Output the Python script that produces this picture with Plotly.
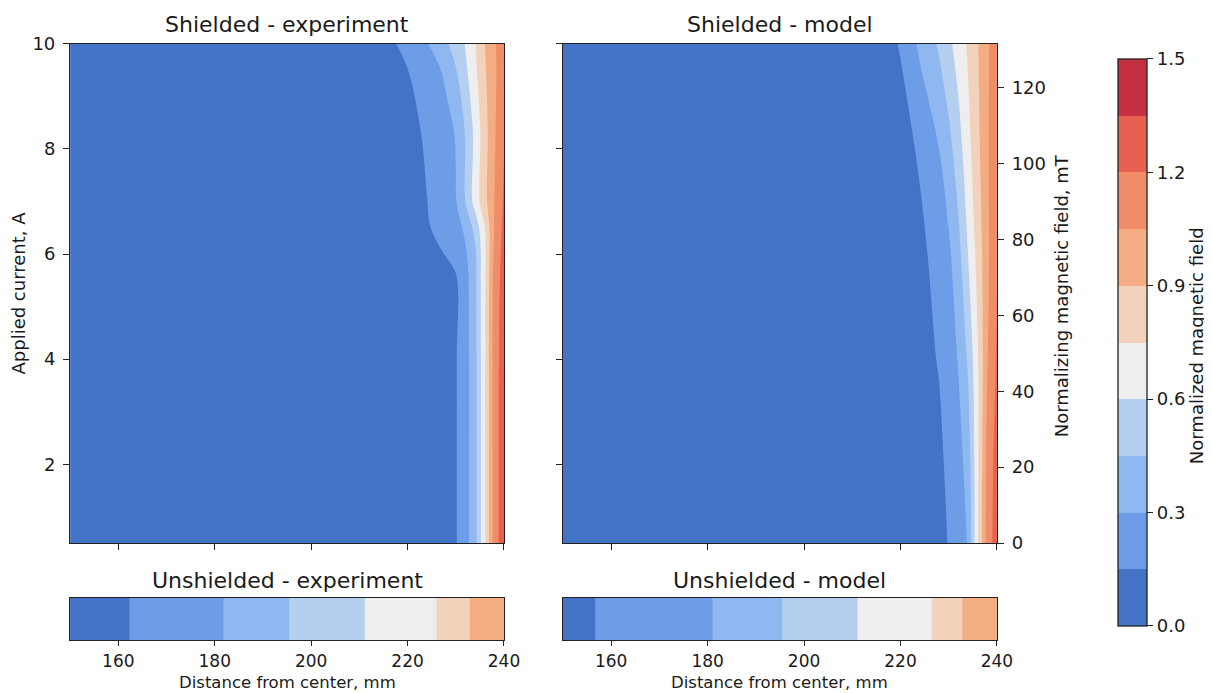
import plotly.graph_objects as go

# ---------------- data ----------------
distance_mm = [150, 190, 210, 216, 220, 224, 228, 230, 232, 234, 236, 238, 240]

current_exp_A = [0.5, 2, 4, 5.6, 6, 6.5, 7, 8.3, 9.5, 10]
field_shielded_exp = [
    [0.03, 0.05, 0.07, 0.08, 0.09, 0.10, 0.12, 0.14, 0.24, 0.40, 0.73, 1.12, 1.30],
    [0.03, 0.05, 0.07, 0.08, 0.09, 0.10, 0.12, 0.14, 0.24, 0.40, 0.73, 1.12, 1.30],
    [0.03, 0.05, 0.07, 0.08, 0.09, 0.10, 0.12, 0.14, 0.24, 0.40, 0.73, 1.12, 1.29],
    [0.03, 0.05, 0.07, 0.08, 0.09, 0.10, 0.12, 0.145, 0.25, 0.41, 0.73, 1.10, 1.27],
    [0.04, 0.06, 0.08, 0.09, 0.10, 0.11, 0.155, 0.20, 0.28, 0.42, 0.72, 1.08, 1.26],
    [0.04, 0.06, 0.08, 0.10, 0.12, 0.14, 0.19, 0.24, 0.33, 0.50, 0.74, 1.06, 1.24],
    [0.04, 0.06, 0.09, 0.11, 0.13, 0.148, 0.24, 0.29, 0.45, 0.66, 0.85, 1.05, 1.22],
    [0.05, 0.07, 0.10, 0.11, 0.12, 0.163, 0.25, 0.31, 0.46, 0.64, 0.84, 1.03, 1.19],
    [0.05, 0.08, 0.11, 0.13, 0.148, 0.22, 0.33, 0.44, 0.57, 0.72, 0.88, 1.02, 1.16],
    [0.05, 0.08, 0.11, 0.13, 0.18, 0.29, 0.43, 0.52, 0.61, 0.74, 0.90, 1.03, 1.15],
]

current_mod_A = [0.5, 2, 4, 6, 8, 10]
field_shielded_mod = [
    [0.03, 0.05, 0.07, 0.08, 0.09, 0.10, 0.12, 0.155, 0.22, 0.31, 0.73, 1.12, 1.27],
    [0.03, 0.05, 0.07, 0.08, 0.09, 0.11, 0.13, 0.17, 0.24, 0.36, 0.72, 1.10, 1.26],
    [0.03, 0.05, 0.07, 0.08, 0.10, 0.12, 0.155, 0.22, 0.31, 0.47, 0.73, 1.04, 1.22],
    [0.04, 0.06, 0.08, 0.09, 0.11, 0.13, 0.18, 0.27, 0.40, 0.60, 0.80, 1.02, 1.19],
    [0.04, 0.06, 0.09, 0.10, 0.12, 0.16, 0.30, 0.40, 0.53, 0.70, 0.86, 1.03, 1.17],
    [0.05, 0.07, 0.10, 0.12, 0.155, 0.33, 0.47, 0.56, 0.67, 0.77, 0.89, 1.03, 1.13],
]

strip_mm = [150, 160, 170, 180, 190, 200, 210, 220, 225, 230, 235, 240]
field_unshielded_exp = [0.08, 0.135, 0.20, 0.28, 0.39, 0.50, 0.59, 0.68, 0.73, 0.83, 0.95, 1.02]
field_unshielded_mod = [0.11, 0.17, 0.23, 0.29, 0.39, 0.50, 0.59, 0.68, 0.72, 0.82, 0.96, 1.04]

x_ticks = [160, 180, 200, 220, 240]
current_ticks = [2, 4, 6, 8, 10]
field_mT_ticks = [0, 20, 40, 60, 80, 100, 120]
field_mT_range = [0, 131.5]
cbar_ticks = [0.0, 0.3, 0.6, 0.9, 1.2, 1.5]
level_step = 0.15

band_colors = ["#4373c7", "#6c9de6", "#8fb7f0", "#b5cff0", "#eeeeee",
               "#f2d2bb", "#f4ad82", "#f08c68", "#e8604f", "#c53040"]

# ---------------- figure ----------------
W, H = 1212, 693
FONT = "DejaVu Sans"
TXT = "#1a1a1a"

# map target picture pixel positions to layout positions
# (the page is photographed with a small offset / scale)
SX, OX = 0.987, 7.9
SY, OY = 0.971, 18.2

def px(x):
    return ((x - OX) / SX) / W

def py(y):
    return 1 - ((y - OY) / SY) / H

FS_TICK = 18
FS_LAB = 18
FS_TITLE = 22

n = len(band_colors)
contour_scale = [[k / (n - 1), c] for k, c in enumerate(band_colors)]
step_scale = []
for k, c in enumerate(band_colors):
    step_scale.append([k / n, c])
    step_scale.append([(k + 1) / n, c])

contour_opts = dict(start=level_step, end=1.5 - level_step, size=level_step,
                    coloring="fill", showlines=False)

fig = go.Figure()

def add_contour(x, y, z, xa, ya):
    fig.add_trace(go.Contour(
        x=x, y=y, z=z, xaxis=xa, yaxis=ya,
        autocontour=False, contours=contour_opts,
        colorscale=contour_scale, showscale=False,
        line=dict(width=0), hoverinfo="skip"))

add_contour(distance_mm, current_exp_A, field_shielded_exp, "x", "y")
add_contour(distance_mm, current_mod_A, field_shielded_mod, "x2", "y2")
add_contour(strip_mm, [0, 1], [field_unshielded_exp, field_unshielded_exp], "x3", "y3")
add_contour(strip_mm, [0, 1], [field_unshielded_mod, field_unshielded_mod], "x4", "y4")

# twin axis helper (no visible marks)
fig.add_trace(go.Scatter(x=[None], y=[None], xaxis="x2", yaxis="y5",
                         mode="markers", showlegend=False, hoverinfo="skip"))

# colour bar carrier (points lie outside the plotted range)
cb_top, cb_bot = 58, 626
fig.add_trace(go.Scatter(
    x=[100, 100], y=[5, 5], xaxis="x", yaxis="y", mode="markers",
    showlegend=False, hoverinfo="skip",
    marker=dict(color=[0, 1.5], cmin=0, cmax=1.5, colorscale=step_scale,
                showscale=True,
                colorbar=dict(
                    x=px(1118), xanchor="left", xpad=0, ypad=0,
                    y=py((cb_top + cb_bot) / 2), yanchor="middle",
                    len=py(cb_top) - py(cb_bot), lenmode="fraction",
                    thickness=29 / SX, thicknessmode="pixels",
                    outlinewidth=1.3, outlinecolor="#222",
                    tickvals=cbar_ticks, ticktext=[f"{v:.1f}" for v in cbar_ticks],
                    ticks="outside", ticklen=6, tickwidth=1.3, tickcolor="#222",
                    tickfont=dict(family=FONT, size=FS_TICK, color=TXT)))))

common_ax = dict(showline=True, mirror=True, linecolor="#222", linewidth=1.3,
                 showgrid=False, zeroline=False, ticks="outside", ticklen=6,
                 tickwidth=1.3, tickcolor="#222", ticklabelstandoff=4,
                 tickfont=dict(family=FONT, size=FS_TICK, color=TXT))

strip_x_ax = {**common_ax, "ticklabelstandoff": 0, "ticklen": 5,
              "tickfont": dict(family=FONT, size=17, color=TXT)}

L_dom = [px(70), px(504)]
R_dom = [px(563), px(997)]
top_dom = [py(543), py(43)]
strip_dom = [py(640), py(598)]

fig.update_layout(
    width=W, height=H, margin=dict(l=0, r=0, t=0, b=0),
    paper_bgcolor="white", plot_bgcolor="white", showlegend=False,
    font=dict(family=FONT, size=FS_LAB, color=TXT),
    xaxis=dict(domain=L_dom, range=[150, 240], anchor="y", tickvals=x_ticks,
               showticklabels=False, **common_ax),
    yaxis=dict(domain=top_dom, range=[0.5, 10], anchor="x", tickvals=current_ticks,
               **common_ax),
    xaxis2=dict(domain=R_dom, range=[150, 240], anchor="y2", tickvals=x_ticks,
                showticklabels=False, **common_ax),
    yaxis2=dict(domain=top_dom, range=[0.5, 10], anchor="x2", tickvals=current_ticks,
                showticklabels=False, **common_ax),
    yaxis5=dict(overlaying="y2", anchor="x2", side="right", range=field_mT_range,
                tickvals=field_mT_ticks, **{k: v for k, v in common_ax.items()
                                            if k not in ("mirror",)}),
    xaxis3=dict(domain=L_dom, range=[150, 240], anchor="y3", tickvals=x_ticks,
                **strip_x_ax),
    yaxis3=dict(domain=strip_dom, range=[0, 1], anchor="x3", showticklabels=False,
                **{**common_ax, "ticks": ""}),
    xaxis4=dict(domain=R_dom, range=[150, 240], anchor="y4", tickvals=x_ticks,
                **strip_x_ax),
    yaxis4=dict(domain=strip_dom, range=[0, 1], anchor="x4", showticklabels=False,
                **{**common_ax, "ticks": ""}),
)

def label(text, x, y, size=FS_LAB, angle=0):
    fig.add_annotation(text=text, x=px(x), y=py(y), xref="paper", yref="paper",
                       showarrow=False, textangle=angle, xanchor="center",
                       yanchor="middle", font=dict(family=FONT, size=size, color=TXT))

label("Shielded - experiment", 287, 24, size=FS_TITLE)
label("Shielded - model", 780, 24, size=FS_TITLE)
label("Unshielded - experiment", 287, 580, size=FS_TITLE)
label("Unshielded - model", 780, 580, size=FS_TITLE)
label("Distance from center, mm", 287, 683, size=16.5)
label("Distance from center, mm", 780, 683, size=16.5)
label("Applied current, A", 18, 293, angle=-90)
label("Normalizing magnetic field, mT", 1062, 295, angle=-90)
label("Normalized magnetic field", 1197, 345, angle=-90)

fig.write_html("out.html")
